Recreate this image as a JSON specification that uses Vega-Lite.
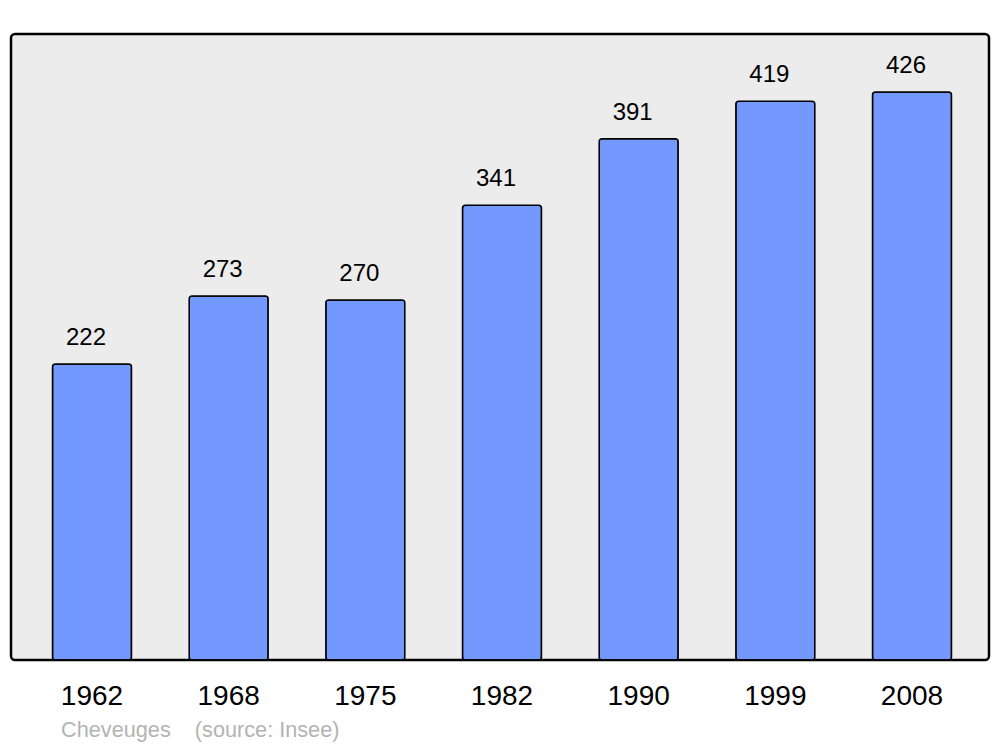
{
  "$schema": "https://vega.github.io/schema/vega-lite/v6.json",
  "width": 978,
  "height": 626,
  "autosize": {"type": "none"},
  "padding": {"left": 11, "top": 34, "right": 11, "bottom": 87},
  "background": "#ffffff",
  "config": {
    "font": "Liberation Sans",
    "view": {"fill": "#ececec", "stroke": "#000000", "strokeWidth": 2.5, "cornerRadius": 4}
  },
  "title": {
    "text": "Cheveuges\u00a0\u00a0\u00a0 (source: Insee)",
    "orient": "bottom",
    "anchor": "start",
    "dx": 50,
    "offset": 10,
    "fontSize": 21.7,
    "fontWeight": "normal",
    "color": "#b3b3b3",
    "font": "Liberation Sans"
  },
  "data": {
    "values": [
      {"year": "1962", "population": 222},
      {"year": "1968", "population": 273},
      {"year": "1975", "population": 270},
      {"year": "1982", "population": 341},
      {"year": "1990", "population": 391},
      {"year": "1999", "population": 419},
      {"year": "2008", "population": 426}
    ]
  },
  "encoding": {
    "x": {
      "field": "year",
      "type": "nominal",
      "sort": null,
      "scale": {"paddingInner": 0.422, "paddingOuter": 0.289, "range": [2, 980]},
      "axis": {
        "title": null,
        "labelAngle": 0,
        "domain": false,
        "ticks": false,
        "labelFontSize": 28,
        "labelColor": "#000000",
        "labelPadding": 22
      }
    },
    "y": {
      "field": "population",
      "type": "quantitative",
      "scale": {"domain": [0, 469.5], "nice": false},
      "axis": null
    }
  },
  "layer": [
    {
      "mark": {"type": "bar", "fill": "#7399ff", "stroke": "#000000", "strokeWidth": 1.5, "cornerRadius": 3}
    },
    {
      "mark": {"type": "text", "baseline": "bottom", "dy": -14, "dx": -6, "fontSize": 24, "color": "#000000"},
      "encoding": {"text": {"field": "population", "type": "quantitative"}}
    }
  ]
}
